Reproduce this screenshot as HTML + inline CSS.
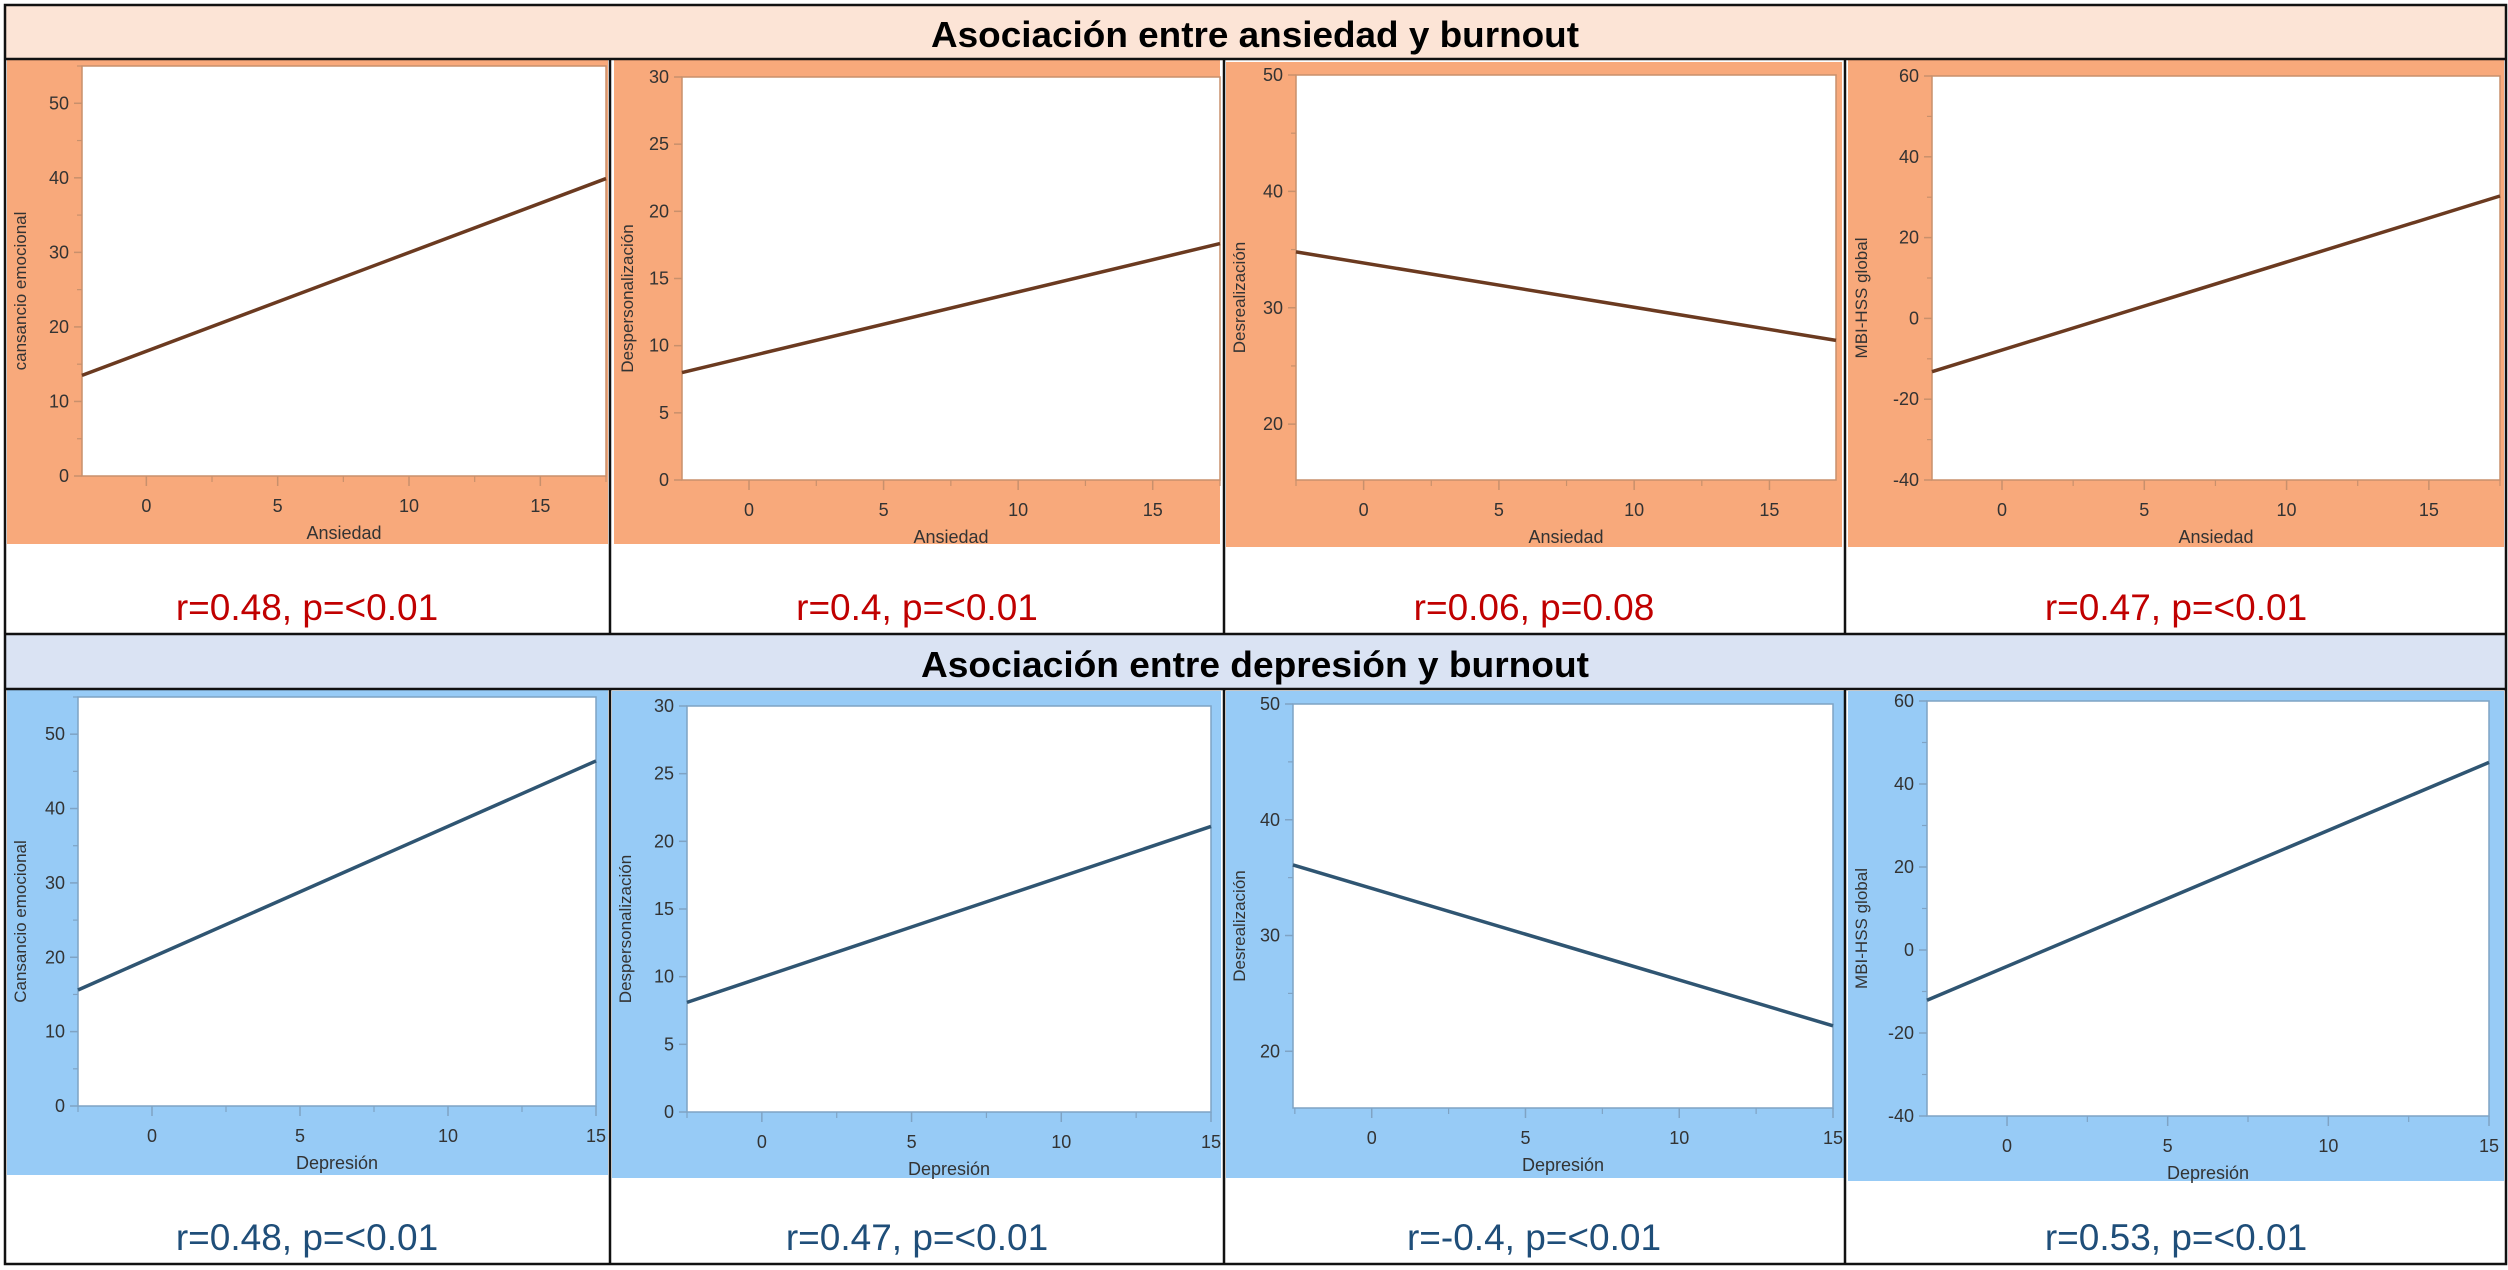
<!DOCTYPE html>
<html><head><meta charset="utf-8"><style>
html,body{margin:0;padding:0;background:#fff}
svg{display:block}
text{font-family:"Liberation Sans",sans-serif}
</style></head><body>
<svg id="fig" width="2508" height="1270" viewBox="0 0 2508 1270" xmlns="http://www.w3.org/2000/svg">
  <rect x="5" y="5" width="2501" height="54" fill="#FCE4D6"/>
  <rect x="5" y="635" width="2501" height="54" fill="#DAE3F3"/>
  <text x="1255" y="47" text-anchor="middle" font-size="36" font-weight="bold" textLength="648" lengthAdjust="spacingAndGlyphs">Asociación entre ansiedad y burnout</text>
  <text x="1255" y="677" text-anchor="middle" font-size="36" font-weight="bold" textLength="668" lengthAdjust="spacingAndGlyphs">Asociación entre depresión y burnout</text>
  <g id="panels"></g>
  <g stroke="#111" stroke-width="2.5" fill="none">
    <rect x="5" y="5" width="2501" height="1259"/>
    <line x1="5" y1="59" x2="2506" y2="59"/>
    <line x1="5" y1="634" x2="2506" y2="634"/>
    <line x1="5" y1="689" x2="2506" y2="689"/>
    <line x1="610" y1="59" x2="610" y2="634"/><line x1="1224" y1="59" x2="1224" y2="634"/><line x1="1845" y1="59" x2="1845" y2="634"/>
    <line x1="610" y1="689" x2="610" y2="1264"/><line x1="1224" y1="689" x2="1224" y2="1264"/><line x1="1845" y1="689" x2="1845" y2="1264"/>
  </g>
</svg>
<script>
// ---- data ----
const xTitles = ["Ansiedad","Ansiedad","Ansiedad","Ansiedad","Depresión","Depresión","Depresión","Depresión"];
const yTitles = ["cansancio emocional","Despersonalización","Desrealización","MBI-HSS global","Cansancio emocional","Despersonalización","Desrealización","MBI-HSS global"];
const xMin = [-2.45,-2.49,-2.5,-2.46,-2.5,-2.5,-2.56,-2.49];
const xMax = [17.5,17.5,17.46,17.5,15,15,15,15];
const yMin = [0,0,15.2,-40,0,0,15.1,-40];
const yMax = [55,30,50,60,55,30,50,60];
const yTickLabels = [[0,10,20,30,40,50],[0,5,10,15,20,25,30],[20,30,40,50],[-40,-20,0,20,40,60],[0,10,20,30,40,50],[0,5,10,15,20,25,30],[20,30,40,50],[-40,-20,0,20,40,60]];
const yMinorStep = [5,0,5,10,5,0,5,10];
const xTickLabels = [0,5,10,15];
const lineStart = [13.5,8.0,34.8,-13.2,15.6,8.1,36.1,-12.1];
const lineEnd = [39.9,17.6,27.2,30.3,46.4,21.1,22.2,45.2];
const statLabels = ["r=0.48, p=<0.01","r=0.4, p=<0.01","r=0.06, p=0.08","r=0.47, p=<0.01","r=0.48, p=<0.01","r=0.47, p=<0.01","r=-0.4, p=<0.01","r=0.53, p=<0.01"];

// ---- layout (not data) ----
const layout = [
 {bg:[7,60,601,484], plot:[82,66,606,476], cx:307, sy:620},
 {bg:[614,60,606,484], plot:[682,77,1220,480], cx:917, sy:620},
 {bg:[1226,62,616,485], plot:[1296,75,1836,480], cx:1534, sy:620},
 {bg:[1848,60,656,487], plot:[1932,76,2500,480], cx:2176, sy:620},
 {bg:[7,690,601,485], plot:[78,697,596,1106], cx:307, sy:1250},
 {bg:[612,691,609,487], plot:[687,706,1211,1112], cx:917, sy:1250},
 {bg:[1226,691,618,487], plot:[1293,704,1833,1108], cx:1534, sy:1250},
 {bg:[1848,691,656,490], plot:[1927,701,2489,1116], cx:2176, sy:1250}
];
const themes = [
 {bg:"#F8A97B", axis:"#C8906C", line:"#6B3A20", text:"#333", stat:"#C00000"},
 {bg:"#97CBF6", axis:"#7FA3C4", line:"#2F5572", text:"#333", stat:"#1F4E79"}
];
const NS="http://www.w3.org/2000/svg";
const root=document.getElementById('panels');
function mk(tag, attrs, parent){const e=document.createElementNS(NS,tag);for(const k in attrs)e.setAttribute(k,attrs[k]);parent.appendChild(e);return e;}

for(let i=0;i<8;i++){
  const L=layout[i], T=themes[i<4?0:1];
  const [px0,py0,px1,py1]=L.plot;
  const sx=v=>px0+(v-xMin[i])/(xMax[i]-xMin[i])*(px1-px0);
  const sy=v=>py1-(v-yMin[i])/(yMax[i]-yMin[i])*(py1-py0);
  const g=mk('g',{},root);
  
  
  const bg=mk('rect',{x:L.bg[0],y:L.bg[1],width:L.bg[2],height:L.bg[3],fill:T.bg},g);
  
  
  const pr=mk('rect',{x:px0,y:py0,width:px1-px0,height:py1-py0,fill:'#fff',stroke:T.axis,'stroke-width':1.5},g);
  
  
  // y ticks
  yTickLabels[i].forEach(v=>{
    const y=sy(v);
    const tk=mk('line',{x1:px0-8,y1:y,x2:px0,y2:y,stroke:T.axis,'stroke-width':1.5},g);
    
    
    const t=mk('text',{x:px0-13,y:y+6,'text-anchor':'end','font-size':18,fill:T.text},g);
    t.textContent=v;
    
    
  });
  if(yMinorStep[i]){
    for(let v=Math.ceil(yMin[i]/yMinorStep[i])*yMinorStep[i]; v<=yMax[i]; v+=yMinorStep[i]){
      if(yTickLabels[i].indexOf(v)>=0) continue;
      const y=sy(v);
      const m=mk('line',{x1:px0-5,y1:y,x2:px0,y2:y,stroke:T.axis,'stroke-width':1.2},g);
      
      
    }
  }
  // x ticks
  xTickLabels.forEach(v=>{
    const x=sx(v);
    const tk=mk('line',{x1:x,y1:py1,x2:x,y2:py1+10,stroke:T.axis,'stroke-width':1.5},g);
    
    
    const t=mk('text',{x:x,y:py1+36,'text-anchor':'middle','font-size':18,fill:T.text},g);
    t.textContent=v;
    
    
  });
  for(let v=-2.5; v<=xMax[i]+0.01; v+=5){
    if(v<xMin[i]) continue;
    const x=sx(v);
    const m=mk('line',{x1:x,y1:py1,x2:x,y2:py1+6,stroke:T.axis,'stroke-width':1.2},g);
    
    
  }
  // titles
  const xt=mk('text',{x:(px0+px1)/2,y:py1+63,'text-anchor':'middle','font-size':18,fill:T.text},g);
  xt.textContent=xTitles[i];
  
  
  const ytx=L.bg[0]+19, yty=(py0+py1)/2+20;
  const yt=mk('text',{x:ytx,y:yty,'text-anchor':'middle','font-size':17,fill:T.text,transform:`rotate(-90 ${ytx} ${yty})`},g);
  yt.textContent=yTitles[i];
  
  
  // regression line
  const ln=mk('line',{x1:sx(xMin[i]),y1:sy(lineStart[i]),x2:sx(xMax[i]),y2:sy(lineEnd[i]),stroke:T.line,'stroke-width':3.5},g);
  
  
  // stat
  const st=mk('text',{x:L.cx,y:L.sy,'text-anchor':'middle','font-size':37,fill:T.stat},g);
  st.textContent=statLabels[i];
  
  
}
</script>
</body></html>
